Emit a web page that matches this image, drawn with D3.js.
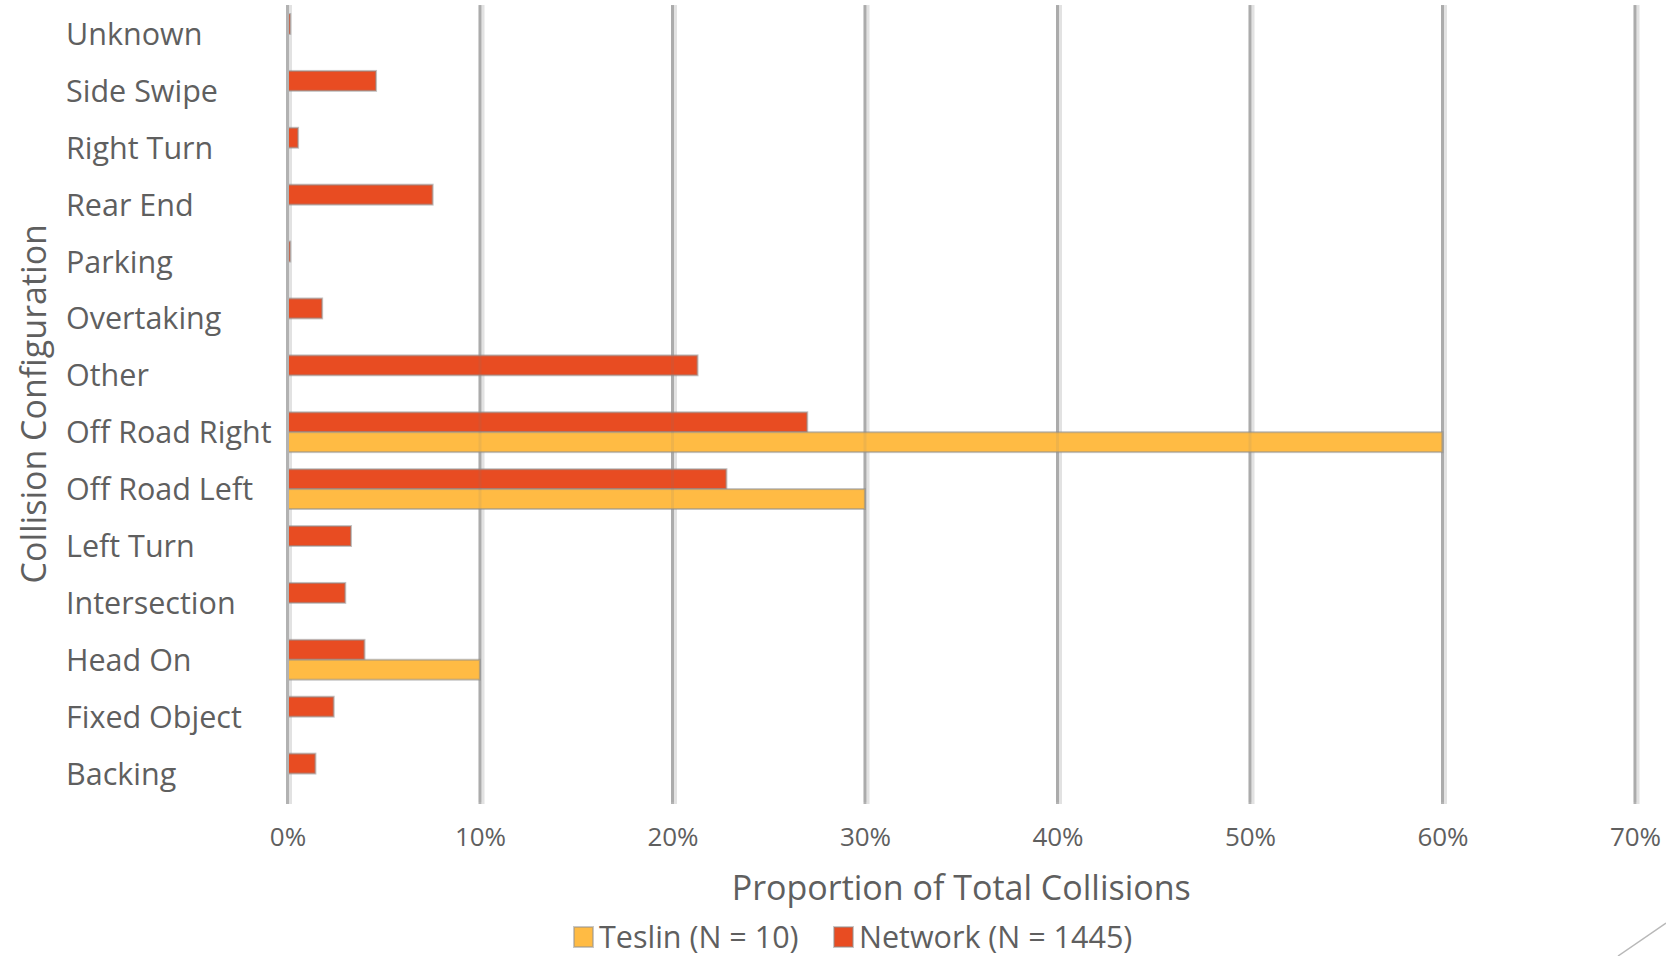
<!DOCTYPE html>
<html>
<head>
<meta charset="utf-8">
<script src="https://cdn.jsdelivr.net/npm/d3@7/dist/d3.min.js"></script>
<style>
  html, body { margin: 0; padding: 0; background: #ffffff; }
  svg { display: block; }
  text { font-family: "Open Sans", "Noto Sans", sans-serif; fill: #5f5f5f; }
</style>
</head>
<body>
<svg id="chart" width="1666" height="956"></svg>
<script>
// Collision configurations, listed top to bottom
const categories = [
  "Unknown", "Side Swipe", "Right Turn", "Rear End", "Parking", "Overtaking",
  "Other", "Off Road Right", "Off Road Left", "Left Turn", "Intersection",
  "Head On", "Fixed Object", "Backing"
];
// Share of total collisions (%)
const networkValues = [0.14, 4.6, 0.55, 7.54, 0.14, 1.8, 21.3, 27.0, 22.8, 3.3, 3.0, 4.0, 2.4, 1.45];
const teslinValues  = [0, 0, 0, 0, 0, 0, 0, 60, 30, 0, 0, 10, 0, 0];
const xTicks = [0, 10, 20, 30, 40, 50, 60, 70];
const seriesNames = ["Network", "Teslin"];
const legendLabels = ["Teslin (N = 10)", "Network (N = 1445)"];
const xTitle = "Proportion of Total Collisions";
const yTitle = "Collision Configuration";

const colors = { Network: "#E84C22", Teslin: "#FFBB44" };

const svg = d3.select("#chart");

const plot = { left: 287.5, right: 1635, top: 5.5, bottom: 802 };

const x = d3.scaleLinear().domain([0, 70]).range([plot.left, plot.right]);
const y = d3.scaleBand().domain(categories).range([plot.top, plot.bottom])
  .paddingInner(0.3).paddingOuter(0.15);
const ySub = d3.scaleBand().domain(seriesNames).range([0, y.bandwidth()]);

const rows = categories.map((c, i) => ({
  category: c,
  Network: networkValues[i],
  Teslin: teslinValues[i]
}));

// vertical gridlines: darker core with a pale edge
const grid = svg.append("g");
grid.selectAll("line.gl").data(xTicks).join("line")
  .attr("x1", d => x(d) + 3).attr("x2", d => x(d) + 3)
  .attr("y1", plot.top - 0.5).attr("y2", plot.bottom + 2)
  .attr("stroke", "#e2e2e2").attr("stroke-width", 3);
grid.selectAll("line.gd").data(xTicks).join("line")
  .attr("x1", d => x(d)).attr("x2", d => x(d))
  .attr("y1", plot.top - 0.5).attr("y2", plot.bottom + 2)
  .attr("stroke", "#b2b2b2").attr("stroke-width", 3);

// bars
const groups = svg.append("g").selectAll("g").data(rows).join("g")
  .attr("transform", d => `translate(0,${y(d.category)})`);
groups.selectAll("rect")
  .data(d => seriesNames.map(s => ({ s, v: d[s] })).filter(e => e.v > 0))
  .join("rect")
  .attr("x", x(0))
  .attr("y", e => ySub(e.s))
  .attr("width", e => x(e.v) - x(0))
  .attr("height", ySub.bandwidth())
  .attr("fill", e => colors[e.s])
  .attr("stroke", "#8f8f8f")
  .attr("stroke-opacity", 0.55)
  .attr("stroke-width", 2);

// faint gridlines showing through the bars, and the zero line on top
svg.append("g").selectAll("line").data(xTicks.slice(1)).join("line")
  .attr("x1", d => x(d)).attr("x2", d => x(d))
  .attr("y1", plot.top).attr("y2", plot.bottom)
  .attr("stroke", "#7a7a7a").attr("stroke-opacity", 0.12).attr("stroke-width", 3);
svg.append("line")
  .attr("x1", x(0)).attr("x2", x(0))
  .attr("y1", plot.top - 0.5).attr("y2", plot.bottom + 2)
  .attr("stroke", "#b2b2b2").attr("stroke-width", 3);

// category labels
svg.append("g").selectAll("text").data(categories).join("text")
  .attr("x", 66)
  .attr("y", d => y(d) + y.bandwidth() / 2 + 11)
  .attr("font-size", 30.5)
  .text(d => d);

// x axis tick labels
const xAxis = d3.axisBottom(x).tickValues(xTicks).tickSize(0).tickPadding(0)
  .tickFormat(d => d + "%");
const gx = svg.append("g").attr("transform", `translate(0,${846})`).call(xAxis);
gx.select(".domain").remove();
gx.selectAll("text")
  .attr("dy", 0)
  .attr("font-size", 26)
  .attr("font-family", "\"Open Sans\", sans-serif")
  .attr("fill", "#5f5f5f");

// axis titles
svg.append("text")
  .attr("x", (plot.left + plot.right) / 2)
  .attr("y", 900)
  .attr("text-anchor", "middle")
  .attr("font-size", 34)
  .text(xTitle);

svg.append("text")
  .attr("transform", `translate(46,${(plot.top + plot.bottom) / 2}) rotate(-90)`)
  .attr("text-anchor", "middle")
  .attr("font-size", 34)
  .text(yTitle);

// legend
const legendItems = [
  { name: "Teslin", label: legendLabels[0], x: 574 },
  { name: "Network", label: legendLabels[1], x: 834 }
];
const lg = svg.append("g").selectAll("g").data(legendItems).join("g")
  .attr("transform", d => `translate(${d.x},927)`);
lg.append("rect")
  .attr("width", 19).attr("height", 20)
  .attr("fill", d => colors[d.name])
  .attr("stroke", "#8f8f8f").attr("stroke-opacity", 0.5).attr("stroke-width", 2);
lg.append("text")
  .attr("x", 25).attr("y", 21)
  .attr("font-size", 30.5)
  .text(d => d.label);

// slide corner accent
svg.append("line")
  .attr("x1", 1666).attr("y1", 923)
  .attr("x2", 1618).attr("y2", 956)
  .attr("stroke", "#b8b8b8").attr("stroke-width", 1.5);
</script>
</body>
</html>
